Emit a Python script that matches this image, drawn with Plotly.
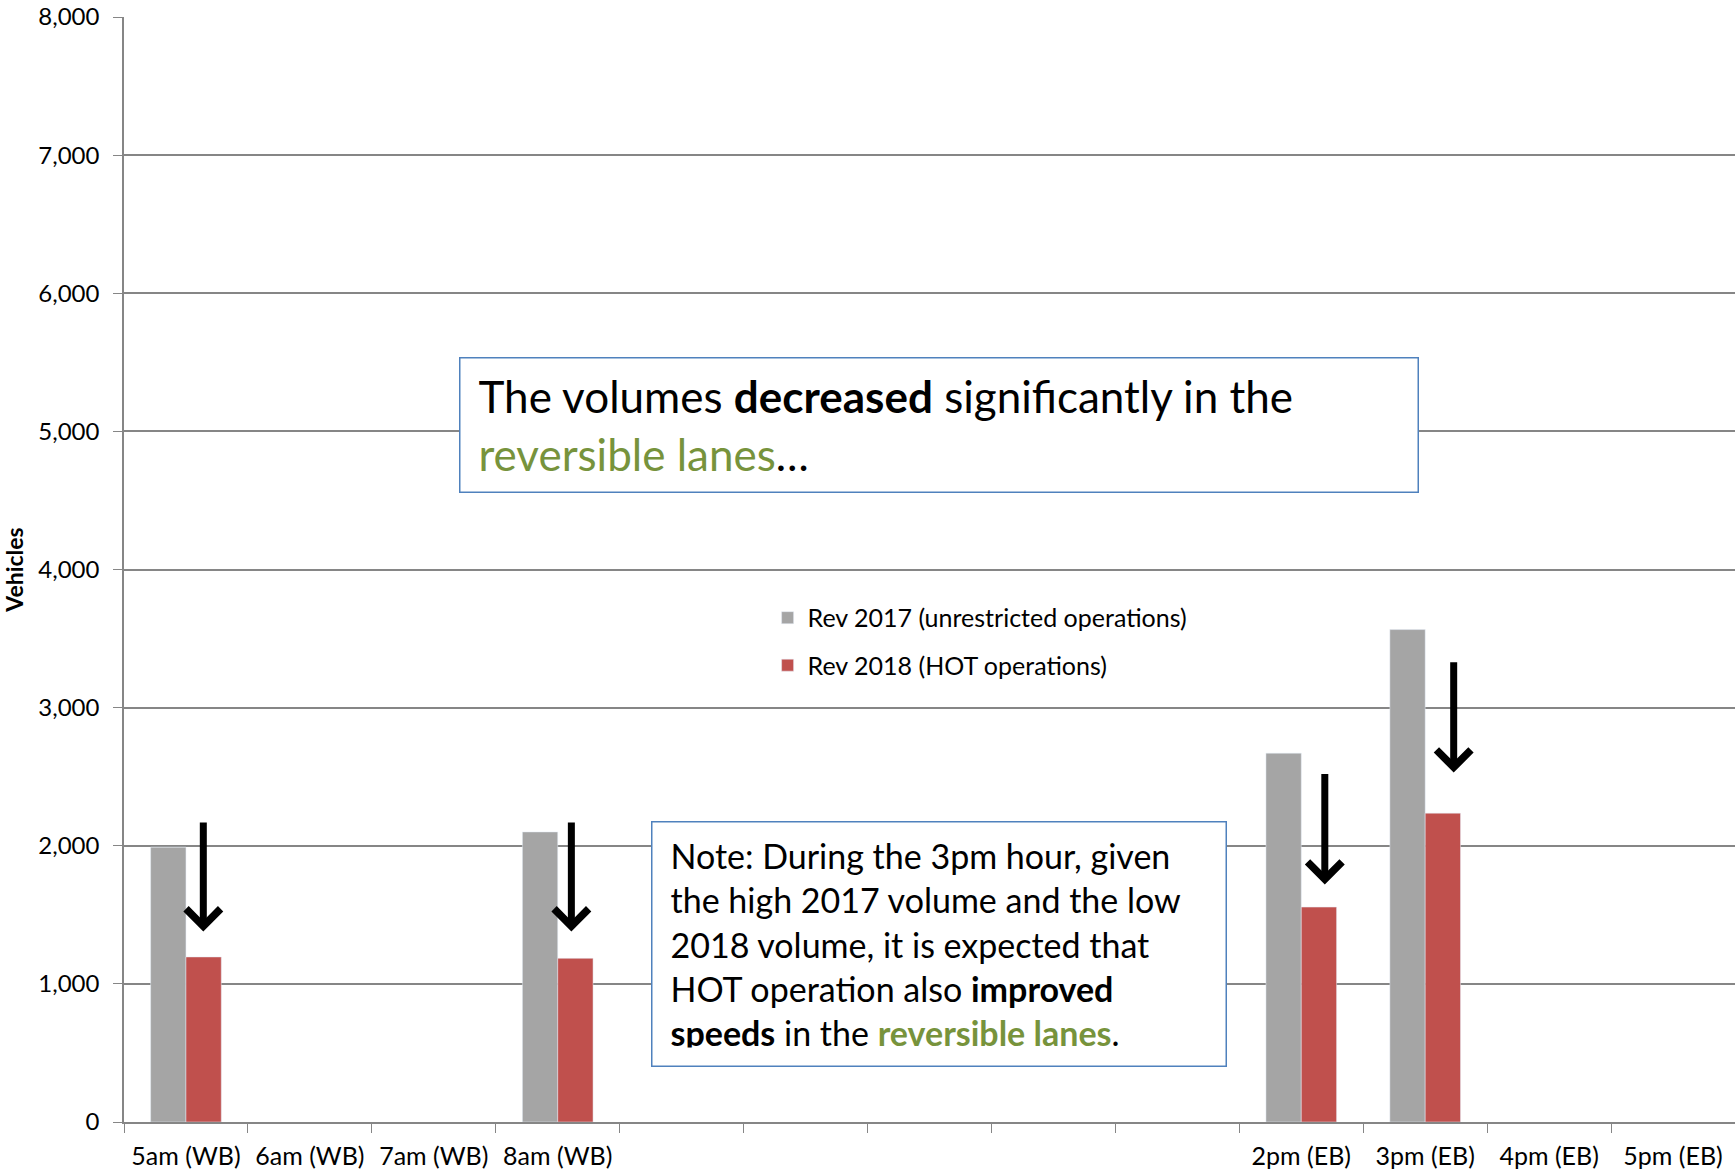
import plotly.graph_objects as go

# categorias (horas) - as horas do meio do dia não têm dados
hours = ['5am (WB)', '6am (WB)', '7am (WB)', '8am (WB)', '9am', '10am', '11am', '12pm', '1pm',
         '2pm (EB)', '3pm (EB)', '4pm (EB)', '5pm (EB)']
hour_labels = ['5am (WB)', '6am (WB)', '7am (WB)', '8am (WB)', '', '', '', '', '',
               '2pm (EB)', '3pm (EB)', '4pm (EB)', '5pm (EB)']

rev_2017 = [1990, None, None, 2100, None, None, None, None, None, 2670, 3565, None, None]
rev_2018 = [1195, None, None, 1185, None, None, None, None, None, 1556, 2236, None, None]

# setas de queda (2017 -> 2018)
arrow_hours = ['5am (WB)', '8am (WB)', '2pm (EB)', '3pm (EB)']
arrow_from = [2180, 2180, 2530, 3340]
arrow_to = [1380, 1380, 1720, 2530]
arrow_dx = [0.14, 0.11, 0.19, 0.23]

GRAY = '#a5a5a5'
RED = '#c0504d'
GREEN = '#77933c'
AXIS = '#868686'
FONT = 'Lato'

fig = go.Figure()
fig.add_trace(go.Bar(x=hours, y=rev_2017, name='Rev 2017 (unrestricted operations)',
                     marker_color=GRAY, legendgroup='a'))
fig.add_trace(go.Bar(x=hours, y=rev_2018, name='Rev 2018 (HOT operations)',
                     marker_color=RED, legendgroup='b'))

for h, y0, y1, dx in zip(arrow_hours, arrow_from, arrow_to, arrow_dx):
    fig.add_annotation(x=hours.index(h) + dx, y=y1, xref='x', yref='y',
                       ax=0, ay=y0, axref='pixel', ayref='y', text='',
                       showarrow=True, arrowhead=4, arrowwidth=7, arrowsize=0.95,
                       arrowcolor='black')

box1 = ('<span style="font-size:44px">The volumes <b>decreased</b> significantly in the<br>'
        '<span style="color:%s">reversible lanes</span>…</span>' % GREEN)
fig.add_annotation(xref='paper', yref='paper', x=0.2079, y=0.692, xanchor='left', yanchor='top',
                   text=box1, showarrow=False, align='left', valign='middle',
                   width=921, height=97, borderpad=18, borderwidth=1.5,
                   bordercolor='#4f81bd', bgcolor='white',
                   font=dict(family=FONT, size=45, color='black'))

box2 = ('<span style="font-size:34px">Note: During the 3pm hour, given<br>'
        'the high 2017 volume and the low<br>'
        '2018 volume, it is expected that<br>'
        'HOT operation also <b>improved</b><br>'
        '<b>speeds</b> in the <b><span style="color:%s">reversible lanes</span></b>.</span>' % GREEN)
fig.add_annotation(xref='paper', yref='paper', x=0.3271, y=0.2723, xanchor='left', yanchor='top',
                   text=box2, showarrow=False, align='left', valign='middle',
                   width=537, height=207, borderpad=18, borderwidth=1.5,
                   bordercolor='#4f81bd', bgcolor='white',
                   font=dict(family=FONT, size=34, color='black'))

fig.update_layout(
    width=1735, height=1173,
    margin=dict(l=124, r=0, t=17, b=51),
    plot_bgcolor='white', paper_bgcolor='white',
    barmode='group', bargap=0.43, bargroupgap=0,
    font=dict(family=FONT, size=24, color='black'),
    legend=dict(x=0.3995, y=0.477, xanchor='left', yanchor='top',
                font=dict(family=FONT, size=25), tracegroupgap=12,
                bgcolor='rgba(0,0,0,0)'),
    xaxis=dict(type='category', categoryorder='array', categoryarray=hours,
               tickmode='array', tickvals=hours, ticktext=hour_labels,
               range=[-0.5, len(hours) - 0.5], tickson='boundaries',
               ticks='outside', ticklen=9, tickcolor=AXIS, showline=True,
               linecolor=AXIS, linewidth=1.5, showgrid=False, automargin=False,
               ticklabelstandoff=11, tickfont=dict(size=25)),
    yaxis=dict(range=[0, 8000], dtick=1000, tickformat=',', showgrid=True,
               gridcolor=AXIS, gridwidth=1.5, showline=True, linecolor=AXIS,
               linewidth=1.5, ticks='outside', ticklen=9, tickcolor=AXIS,
               zeroline=False, ticklabelstandoff=9, tickfont=dict(size=24),
               automargin=False,
               title=dict(text='<b>Vehicles</b>', font=dict(size=23), standoff=24)),
)

fig.write_html('out.html', config={'displayModeBar': False},
               post_script="document.body.style.margin='0';document.body.style.overflow='hidden';")
